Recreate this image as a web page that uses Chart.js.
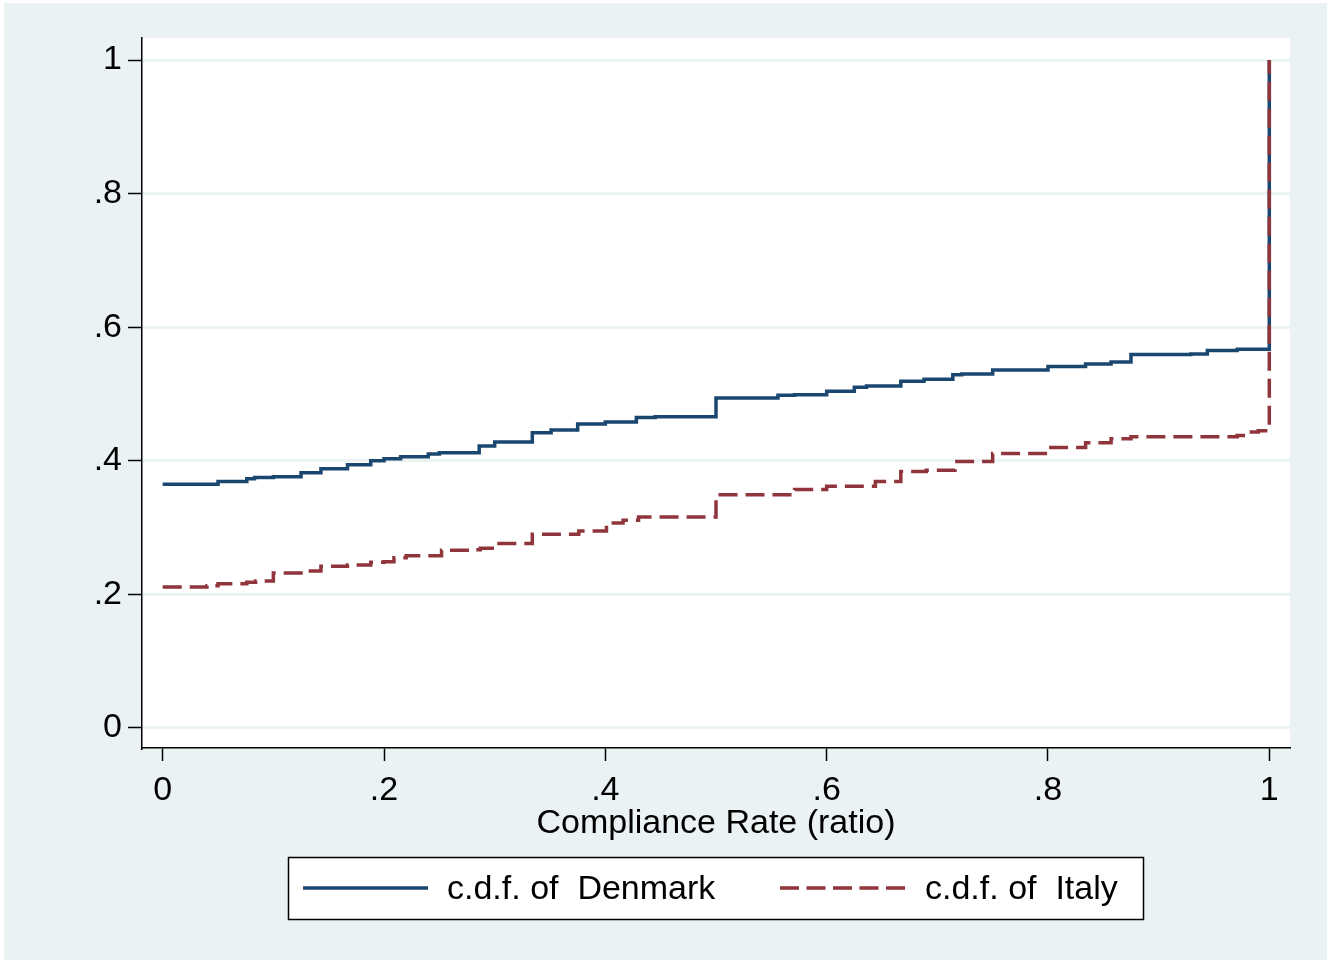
<!DOCTYPE html>
<html>
<head>
<meta charset="utf-8">
<script src="https://cdn.jsdelivr.net/npm/chart.js@4.4.0/dist/chart.umd.min.js"></script>
<style>
  html, body { margin: 0; padding: 0; background: #ffffff; }
  #wrap { width: 1333px; height: 964px; position: relative; }
</style>
</head>
<body>
<div id="wrap"><canvas id="cdfChart" width="1333" height="964"></canvas></div>
<script>
// Empirical c.d.f. steps (x = compliance rate, y = cumulative share)
var denmarkX = [0, 0.05, 0.076, 0.083, 0.1, 0.125, 0.143, 0.167, 0.188, 0.2, 0.215, 0.24, 0.25, 0.286, 0.3,
  0.334, 0.351, 0.375, 0.4, 0.428, 0.445, 0.5, 0.556, 0.571, 0.6, 0.625, 0.636, 0.667, 0.688, 0.714, 0.722,
  0.75, 0.8, 0.834, 0.857, 0.875, 0.929, 0.944, 0.971, 1];
var denmarkY = [0.365, 0.369, 0.373, 0.375, 0.376, 0.382, 0.388, 0.394, 0.400, 0.403, 0.406, 0.410, 0.412, 0.422, 0.428,
  0.442, 0.446, 0.455, 0.458, 0.465, 0.466, 0.494, 0.498, 0.499, 0.504, 0.510, 0.512, 0.519, 0.522, 0.529, 0.530,
  0.536, 0.541, 0.545, 0.548, 0.559, 0.560, 0.565, 0.567, 1];

var italyX = [0, 0.04, 0.05, 0.076, 0.084, 0.1, 0.125, 0.143, 0.167, 0.188, 0.2, 0.209, 0.22, 0.252, 0.281, 0.287, 0.3,
  0.334, 0.376, 0.401, 0.416, 0.43, 0.5, 0.571, 0.6, 0.644, 0.667, 0.69, 0.716, 0.75, 0.8, 0.834, 0.857, 0.875,
  0.971, 0.981, 0.99, 1];
var italyY = [0.211, 0.213, 0.216, 0.218, 0.220, 0.232, 0.235, 0.242, 0.244, 0.248, 0.249, 0.255, 0.258, 0.266, 0.267, 0.269, 0.276,
  0.290, 0.295, 0.307, 0.311, 0.316, 0.349, 0.357, 0.362, 0.369, 0.384, 0.386, 0.399, 0.411, 0.420, 0.427, 0.433, 0.436,
  0.438, 0.443, 0.445, 1];

var xTicks = [0, 0.2, 0.4, 0.6, 0.8, 1];
var yTicks = [0, 0.2, 0.4, 0.6, 0.8, 1];
var tickLabels = ["0", ".2", ".4", ".6", ".8", "1"];

var seriesNames = ["c.d.f. of  Denmark", "c.d.f. of  Italy"];

var navy = "#1a476f";
var maroon = "#90353b";
var bgColor = "#eaf2f3";
var font = "'Liberation Sans', Arial, sans-serif";

function toPoints(xs, ys) {
  return xs.map(function (x, i) { return { x: x, y: ys[i] }; });
}

function tickText(value) {
  var i = xTicks.indexOf(Math.round(value * 10) / 10);
  return i >= 0 ? tickLabels[i] : "";
}

// graph region + white plot region
var backgroundPlugin = {
  id: "stataBackground",
  beforeDraw: function (chart) {
    var c = chart.ctx, a = chart.chartArea;
    c.save();
    c.fillStyle = "#ffffff";
    c.fillRect(0, 0, chart.width, chart.height);
    c.fillStyle = bgColor;
    c.fillRect(4, 3, 1323, 957);
    c.fillStyle = "#ffffff";
    c.fillRect(a.left, a.top, a.right - a.left, a.bottom - a.top);
    c.restore();
  }
};

// boxed legend under the axis title
var legendPlugin = {
  id: "boxLegend",
  afterDraw: function (chart) {
    var c = chart.ctx;
    c.save();
    c.fillStyle = "#ffffff";
    c.fillRect(288, 857, 856, 63);
    c.strokeStyle = "#000000";
    c.lineWidth = 1.5;
    c.strokeRect(288.5, 857.5, 855, 62);

    c.lineWidth = 3.5;
    c.strokeStyle = navy;
    c.beginPath(); c.moveTo(303, 888); c.lineTo(428, 888); c.stroke();

    c.strokeStyle = maroon;
    c.setLineDash([19, 7.5]);
    c.beginPath(); c.moveTo(780, 888); c.lineTo(905, 888); c.stroke();
    c.setLineDash([]);

    c.fillStyle = "#000000";
    c.font = "34px " + font;
    c.textBaseline = "middle";
    c.textAlign = "left";
    c.fillText(seriesNames[0], 447, 890);
    c.fillText(seriesNames[1], 925, 890);
    c.restore();
  }
};

var ctx = document.getElementById("cdfChart").getContext("2d");

var cdfChart = new Chart(ctx, {
  type: "line",
  data: {
    datasets: [
      {
        label: seriesNames[1],
        data: toPoints(italyX, italyY),
        borderColor: maroon,
        borderWidth: 3.5,
        borderDash: [19, 8],
        stepped: "before",
        pointRadius: 0,
        fill: false,
        order: 0
      },
      {
        label: seriesNames[0],
        data: toPoints(denmarkX, denmarkY),
        borderColor: navy,
        borderWidth: 3.5,
        stepped: "before",
        pointRadius: 0,
        fill: false,
        order: 1
      }
    ]
  },
  options: {
    responsive: false,
    animation: false,
    layout: { padding: { left: 0, top: 38, right: 43, bottom: 120 } },
    plugins: { legend: { display: false }, tooltip: { enabled: false } },
    scales: {
      x: {
        type: "linear",
        min: -0.0187,
        max: 1.0187,
        afterBuildTicks: function (scale) {
          scale.ticks = xTicks.map(function (v) { return { value: v }; });
        },
        afterFit: function (scale) { scale.height = 96; },
        ticks: {
          callback: tickText,
          color: "#000000",
          font: { family: font, size: 34 },
          padding: 9,
          maxRotation: 0,
          autoSkip: false
        },
        grid: {
          drawOnChartArea: false,
          drawTicks: true,
          tickLength: 13,
          tickColor: "#000000",
          tickWidth: 1.5
        },
        border: { display: true, color: "#000000", width: 1.5 },
        title: {
          display: true,
          text: "Compliance Rate (ratio)",
          color: "#000000",
          font: { family: font, size: 34 },
          padding: { top: 0, bottom: 0 }
        }
      },
      y: {
        type: "linear",
        min: -0.03,
        max: 1.033,
        afterBuildTicks: function (scale) {
          scale.ticks = yTicks.map(function (v) { return { value: v }; });
        },
        afterFit: function (scale) { scale.width = 142; },
        ticks: {
          callback: tickText,
          color: "#000000",
          font: { family: font, size: 34 },
          padding: 6
        },
        grid: {
          color: bgColor,
          lineWidth: 3,
          drawTicks: true,
          tickLength: 14,
          tickColor: "#000000",
          tickWidth: 1.5
        },
        border: { display: true, color: "#000000", width: 1.5 }
      }
    }
  },
  plugins: [backgroundPlugin, legendPlugin]
});
</script>
</body>
</html>
